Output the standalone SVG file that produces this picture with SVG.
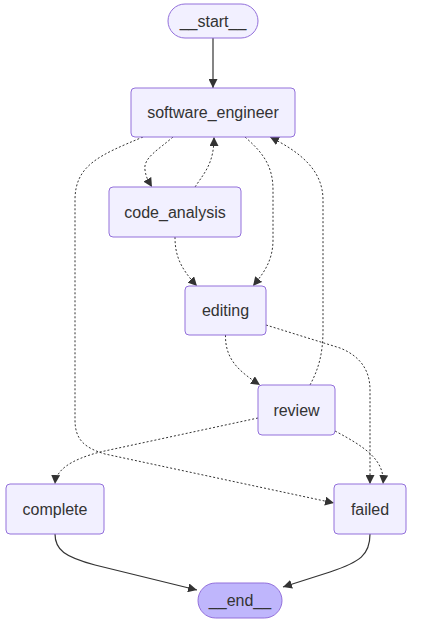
<svg xmlns="http://www.w3.org/2000/svg" width="425" height="623" viewBox="0 0 425 623">
<style>
.node rect{fill:#f2f0ff;stroke:#9370db;stroke-width:1}
.node.end rect{fill:#bfb6fc}
.node text{font-family:"Liberation Sans",Arial,sans-serif;font-size:16px;fill:#333;text-anchor:middle;dominant-baseline:central}
.edge{fill:none;stroke:#333;stroke-width:1.2}
.dot{stroke-width:1;stroke-dasharray:2 2}
</style>
<defs>
<marker id="arr" viewBox="0 0 10 10" refX="10" refY="5" markerWidth="9" markerHeight="9" markerUnits="userSpaceOnUse" orient="auto">
<path d="M0,0 L10,5 L0,10 z" fill="#333"/>
</marker>
</defs>
<rect width="425" height="623" fill="#fff"/>
<g id="connectors">
<path class="edge" d="M213,38 L213,88" marker-end="url(#arr)"/>
<path class="edge dot" d="M173,137 C158,150 143,158 145,170 C146,178 149,182 152,187" marker-end="url(#arr)"/>
<path class="edge dot" d="M195,187 C205,172 214,163 214,137" marker-end="url(#arr)"/>
<path class="edge dot" d="M245,137 C262,152 273,165 273,190 L273,240 C273,262 262,275 253,286" marker-end="url(#arr)"/>
<path class="edge dot" d="M175,237 C175,255 180,268 197,286" marker-end="url(#arr)"/>
<path class="edge dot" d="M143,137 C100,155 75,165 75,200 L75,420 C75,440 85,448 105,454 L334,503" marker-end="url(#arr)"/>
<path class="edge dot" d="M310,385 C318,370 323,355 323,330 L323,200 C323,170 300,152 270,137" marker-end="url(#arr)"/>
<path class="edge dot" d="M266,325 L340,348 C360,356 370,370 370,390 L370,484" marker-end="url(#arr)"/>
<path class="edge dot" d="M225.5,335 C225,360 240,372 260,385" marker-end="url(#arr)"/>
<path class="edge dot" d="M258,418 L100,452 C70,460 56,470 55,484" marker-end="url(#arr)"/>
<path class="edge dot" d="M335,431 C365,447 385,460 383,484" marker-end="url(#arr)"/>
<path class="edge" d="M55,534 C55,550 65,557 95,565 L197,590" marker-end="url(#arr)"/>
<path class="edge" d="M370,534 C370,555 360,562 330,572 L283,587" marker-end="url(#arr)"/>
</g>
<g id="start" class="node"><rect x="168" y="4" width="90" height="34" rx="17"/><text x="213" y="21">__start__</text></g>
<g id="software_engineer" class="node"><rect x="131" y="88" width="164" height="49" rx="4"/><text x="213" y="112.5">software_engineer</text></g>
<g id="code_analysis" class="node"><rect x="109" y="187" width="132" height="50" rx="4"/><text x="175" y="212">code_analysis</text></g>
<g id="editing" class="node"><rect x="185" y="286" width="81" height="49" rx="4"/><text x="225.5" y="310.5">editing</text></g>
<g id="review" class="node"><rect x="258" y="385" width="77" height="50" rx="4"/><text x="296.5" y="410">review</text></g>
<g id="complete" class="node"><rect x="6" y="484" width="98" height="50" rx="4"/><text x="55" y="509">complete</text></g>
<g id="failed" class="node"><rect x="334" y="484" width="72" height="50" rx="4"/><text x="370" y="509">failed</text></g>
<g id="end" class="node end"><rect x="198" y="583" width="84" height="35" rx="17.5"/><text x="240" y="600.5">__end__</text></g>
</svg>
